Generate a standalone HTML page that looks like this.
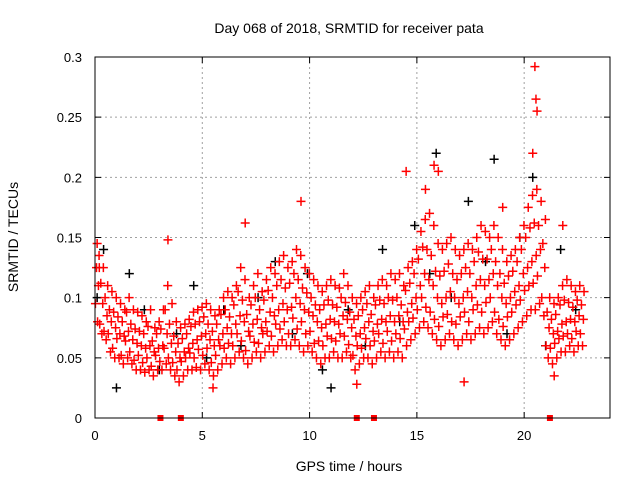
<!DOCTYPE html>
<html><head><meta charset="utf-8"><style>
body{margin:0;background:#fff}
svg{display:block;font-family:"Liberation Sans",sans-serif}
</style></head><body>
<svg id="chart" width="640" height="480">
<text x="349" y="33" text-anchor="middle" font-size="14">Day 068 of 2018, SRMTID for receiver pata</text>
<text x="349" y="471" text-anchor="middle" font-size="14">GPS time / hours</text>
<text transform="translate(18,237) rotate(-90)" text-anchor="middle" font-size="14">SRMTID / TECUs</text>
<g id="grid"></g><g id="ticks"></g><g id="marks"></g>
<rect x="95" y="57" width="515" height="361" fill="none" stroke="#000" stroke-width="1"/>
</svg>
<script>
const xTicks=[0,5,10,15,20];
const yTicks=[0,0.05,0.1,0.15,0.2,0.25,0.3];
const yTickLabels=["0","0.05","0.1","0.15","0.2","0.25","0.3"];
const slotHours=[0.1,0.3,0.5,0.7,0.9,1.1,1.3,1.5,1.7,1.9,2.1,2.3,2.5,2.7,2.9,3.1,3.3,3.5,3.7,3.9,4.1,4.3,4.5,4.7,4.9,5.1,5.3,5.5,5.7,5.9,6.1,6.3,6.5,6.7,6.9,7.1,7.3,7.5,7.7,7.9,8.1,8.3,8.5,8.7,8.9,9.1,9.3,9.5,9.7,9.9,10.1,10.3,10.5,10.7,10.9,11.1,11.3,11.5,11.7,11.9,12.1,12.3,12.5,12.7,12.9,13.1,13.3,13.5,13.7,13.9,14.1,14.3,14.5,14.7,14.9,15.1,15.3,15.5,15.7,15.9,16.1,16.3,16.5,16.7,16.9,17.1,17.3,17.5,17.7,17.9,18.1,18.3,18.5,18.7,18.9,19.1,19.3,19.5,19.7,19.9,20.1,20.3,20.5,20.7,20.9,21.1,21.3,21.5,21.7,21.9,22.1,22.3,22.5,22.7];
const redLow=[.08,.07,.065,.055,.05,.05,.045,.05,.045,.04,.04,.038,.04,.035,.04,.04,.045,.04,.035,.03,.035,.04,.04,.042,.04,.045,.04,.035,.04,.045,.05,.045,.05,.055,.05,.045,.05,.055,.05,.055,.06,.055,.06,.065,.06,.06,.065,.06,.055,.06,.055,.05,.045,.05,.05,.055,.05,.05,.055,.05,.04,.045,.05,.05,.045,.05,.055,.05,.055,.05,.055,.05,.06,.065,.07,.075,.08,.075,.07,.065,.06,.065,.07,.065,.06,.065,.07,.065,.07,.075,.07,.075,.08,.07,.065,.06,.065,.07,.075,.08,.085,.09,.09,.095,.085,.05,.045,.05,.055,.055,.06,.055,.06,.06];
const redQ1=[.095,.078,.072,.07,.058,.066,.052,.064,.055,.048,.052,.046,.05,.043,.052,.047,.058,.05,.046,.04,.047,.05,.054,.05,.057,.052,.058,.046,.052,.06,.058,.062,.06,.07,.064,.056,.068,.063,.062,.07,.072,.068,.078,.074,.08,.07,.083,.074,.08,.07,.072,.062,.064,.06,.068,.066,.064,.07,.068,.061,.052,.06,.058,.066,.06,.064,.07,.062,.072,.064,.07,.066,.074,.08,.083,.09,.1,.092,.088,.082,.076,.084,.086,.08,.078,.084,.088,.08,.09,.094,.088,.096,.1,.088,.082,.076,.084,.088,.094,.098,.106,.11,.112,.118,.1,.06,.058,.062,.066,.068,.07,.066,.072,.07];
const redMid=[.11,.095,.085,.08,.075,.07,.068,.072,.065,.062,.06,.058,.06,.055,.058,.06,.07,.062,.055,.05,.055,.058,.062,.065,.068,.07,.065,.06,.065,.07,.075,.07,.078,.085,.08,.072,.078,.082,.075,.08,.088,.085,.09,.095,.09,.092,.1,.095,.09,.088,.085,.08,.075,.078,.082,.08,.078,.085,.082,.075,.068,.07,.075,.08,.072,.078,.082,.08,.085,.08,.085,.08,.088,.095,.1,.11,.12,.115,.11,.1,.095,.1,.105,.1,.095,.1,.105,.1,.11,.115,.11,.115,.12,.11,.1,.095,.1,.105,.11,.12,.125,.13,.135,.14,.125,.075,.07,.072,.078,.08,.082,.08,.085,.082];
const redQ3=[.125,.112,.1,.09,.088,.084,.08,.088,.078,.074,.072,.07,.076,.064,.07,.074,.09,.078,.068,.062,.066,.07,.076,.078,.08,.084,.078,.072,.078,.086,.09,.084,.094,.105,.098,.086,.094,.1,.09,.098,.106,.1,.11,.115,.108,.112,.12,.115,.108,.104,.1,.094,.09,.094,.098,.094,.092,.1,.096,.088,.082,.085,.09,.095,.086,.094,.098,.095,.1,.098,.1,.094,.106,.112,.12,.132,.142,.14,.135,.122,.118,.122,.128,.12,.115,.12,.125,.12,.13,.138,.132,.132,.14,.13,.12,.112,.118,.122,.13,.14,.15,.158,.162,.16,.145,.088,.082,.086,.094,.098,.096,.092,.098,.094];
const redHigh=[.135,.125,.11,.105,.1,.095,.09,.1,.09,.088,.085,.08,.09,.075,.08,.09,.11,.095,.08,.075,.078,.082,.088,.09,.092,.095,.09,.085,.09,.1,.105,.1,.11,.125,.115,.1,.11,.12,.105,.115,.125,.12,.13,.135,.125,.13,.14,.135,.125,.12,.115,.11,.105,.11,.115,.11,.108,.12,.11,.1,.095,.1,.105,.11,.1,.11,.115,.11,.12,.115,.12,.11,.125,.13,.14,.155,.165,.17,.16,.145,.14,.145,.15,.14,.135,.14,.145,.14,.15,.16,.155,.15,.16,.15,.14,.13,.135,.14,.15,.16,.175,.185,.19,.18,.165,.1,.095,.1,.11,.115,.11,.105,.11,.105];
const redOutHours=[0.1,3.4,7.0,9.6,14.5,15.8,16.0,20.5,20.55,20.6,20.4,21.8,5.5,21.4,17.2,12.2,0.2,15.4,19.0];
const redOutValues=[0.145,0.148,0.162,0.18,0.205,0.21,0.205,0.292,0.265,0.255,0.22,0.16,0.025,0.035,0.03,0.028,0.125,0.19,0.175];
const blackHours=[0.1,0.4,1.0,1.6,2.3,3.0,3.8,4.6,5.2,6.0,6.8,7.6,8.4,9.2,9.9,10.6,11.0,11.8,12.6,13.4,14.2,14.9,15.6,15.9,16.6,17.4,18.2,18.6,19.2,19.8,20.4,21.0,21.7,22.4];
const blackValues=[0.1,0.14,0.025,0.12,0.09,0.04,0.07,0.11,0.05,0.09,0.06,0.1,0.13,0.07,0.12,0.04,0.025,0.09,0.06,0.14,0.08,0.16,0.12,0.22,0.1,0.18,0.13,0.215,0.07,0.15,0.2,0.06,0.14,0.09];
const redSquareHours=[3.05,4.0,12.2,13.0,21.2];

const X0=95,X1=610,Y0=418,Y1=57;
const xs=h=>X0+h/24*(X1-X0);
const ys=v=>Y0-v/0.3*(Y0-Y1);
const NS="http://www.w3.org/2000/svg";
function mk(tag,attrs,parent){const e=document.createElementNS(NS,tag);for(const k in attrs)e.setAttribute(k,attrs[k]);document.getElementById(parent).appendChild(e);return e;}
xTicks.forEach(t=>{
 const x=xs(t);
 if(t>0){const g=mk('line',{x1:x,x2:x,y1:Y1,y2:Y0,stroke:'#a0a0a0','stroke-dasharray':'2,3'},'grid');
 
 }
 const tk=mk('path',{d:`M${x},${Y0}v-6M${x},${Y1}v6`,stroke:'#000'},'ticks');
 
 
 const l=mk('text',{x:x,y:Y0+22,'text-anchor':'middle','font-size':13},'ticks');l.textContent=t;
 
 
});
yTicks.forEach((t,i)=>{
 const y=ys(t);
 if(t>0&&t<0.3){const g=mk('line',{x1:X0,x2:X1,y1:y,y2:y,stroke:'#a0a0a0','stroke-dasharray':'2,3'},'grid');
 
 }
 const tk=mk('path',{d:`M${X0},${y}h6M${X1},${y}h-6`,stroke:'#000'},'ticks');
 
 
 const l=mk('text',{x:X0-13,y:y+5,'text-anchor':'end','font-size':13},'ticks');l.textContent=yTickLabels[i];
 
 
});
function plus(h,v,c,name){
 const x=xs(h),y=ys(v);
 const p=mk('path',{d:`M${x-4.5},${y}h9M${x},${y-4.5}v9`,stroke:c,'stroke-width':1.5},'marks');
 
 
}
blackHours.forEach((h,i)=>plus(h,blackValues[i],'#000','black-point'));
slotHours.forEach((h,i)=>{
 plus(h+0.02,redLow[i],'#f00','red-point');
 plus(h-0.08,redQ1[i],'#f00','red-point');
 plus(h+0.06,redMid[i],'#f00','red-point');
 plus(h-0.03,redQ3[i],'#f00','red-point');
 plus(h+0.09,redHigh[i],'#f00','red-point');
});
redOutHours.forEach((h,i)=>plus(h,redOutValues[i],'#f00','red-outlier'));
redSquareHours.forEach(h=>{
 const r=mk('rect',{x:xs(h)-3,y:Y0-3,width:6,height:6,fill:'#f00'},'marks');
 
 
});
</script>
</body></html>
